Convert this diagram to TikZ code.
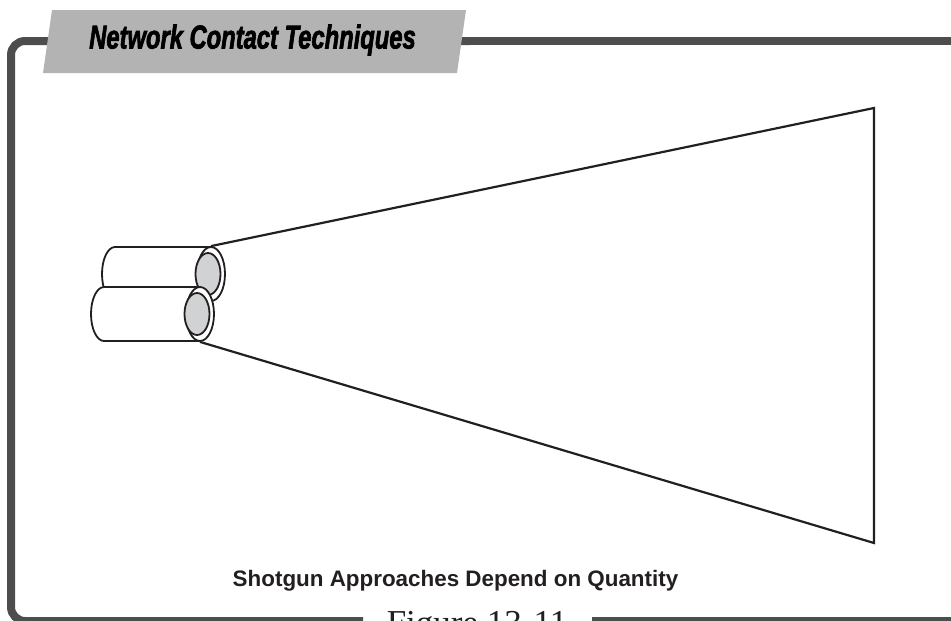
\documentclass[tikz,border=0pt]{standalone}
\usepackage{fontspec}
\setmainfont{Liberation Serif}
\setsansfont{Liberation Sans}
\usepackage{tikz}
\usetikzlibrary{shapes.geometric}
\definecolor{ink}{HTML}{231F20}
\definecolor{framegray}{HTML}{4D4D4D}
\definecolor{banner}{HTML}{B3B3B3}
\definecolor{lens}{HTML}{D1D2D4}

\begin{document}
\begin{tikzpicture}[x=1pt, y=-1pt,
  frameline/.style={draw=framegray, line width=8pt},
  tube/.style={draw=ink, line width=1.8pt},
  rim/.style={ellipse, draw=ink, line width=1.8pt, fill=white, inner sep=0pt, minimum width=28pt, minimum height=54pt},
  glass/.style={ellipse, draw=ink, line width=1.8pt, fill=lens, inner sep=0pt, minimum width=25pt, minimum height=42pt}]
\useasboundingbox (0,0) rectangle (951,621);

% outer frame, broken under the tab and the figure number
\draw[frameline, rounded corners=14pt] (470,41) -- (11,41) -- (11,621) -- (363,621);
\draw[frameline] (460,41) -- (951,41);
\draw[frameline] (592,621) -- (951,621);

% title tab
\fill[banner] (52,10) -- (466,10) -- (457,73) -- (43,73) -- cycle;
\node[anchor=base, xscale=0.72, text=black, font=\sffamily\bfseries\itshape\fontsize{33}{35}\selectfont\addfontfeature{FakeBold=2.5}] (title) at (252.5,48.5) {Network Contact Techniques};

% the two barrels
\foreach \dx/\dy/\id in {0/0/upper, -11/40/lower} {
  \begin{scope}[shift={(\dx,\dy)}]
    \fill[white] (211,247) -- (115,247) arc[start angle=90, end angle=270, x radius=13pt, y radius=27pt] -- (211,301) -- cycle;
    \draw[tube] (211,247) -- (115,247) arc[start angle=90, end angle=270, x radius=13pt, y radius=27pt] -- (211,301);
    \node[rim] (\id-rim) at (211,274) {};
    \node[glass] (\id-lens) at (208,274) {};
  \end{scope}
}

% spread of the shot
\coordinate (far-top) at (874,108);
\coordinate (far-bot) at (874,543);
\draw[tube, line width=2.2pt, line join=miter] (upper-rim.north) -- (far-top) -- (far-bot) -- (lower-rim.south);

\node[anchor=base, text=ink, font=\sffamily\bfseries\fontsize{22.4}{24}\selectfont] (caption) at (455.5,586) {Shotgun Approaches Depend on Quantity};
\node[anchor=base, text=ink, font=\fontsize{35}{36}\selectfont] (figno) at (477,634) {Figure 13-11};
\end{tikzpicture}
\end{document}
